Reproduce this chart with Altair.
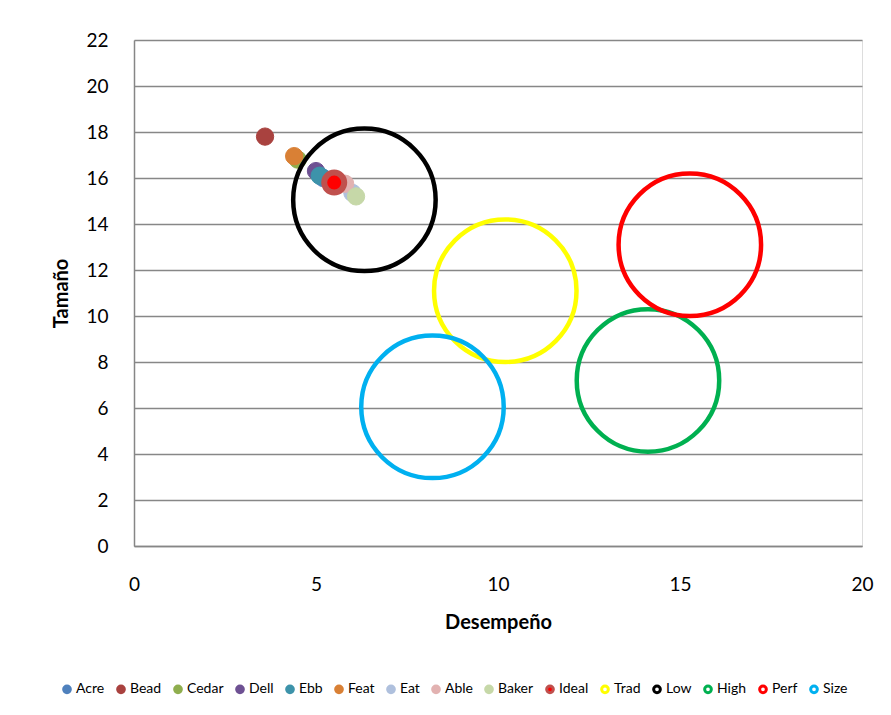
import altair as alt
import pandas as pd

series = ["Acre", "Bead", "Cedar", "Dell", "Ebb", "Feat", "Eat", "Able", "Baker",
          "Ideal", "Trad", "Low", "High", "Perf", "Size"]
fills = ["#4F81BD", "#A9423F", "#8FAE4E", "#6E5193", "#3D93AA", "#D98035", "#AFC0DD",
         "#E2B2B1", "#C6D8A8", "#FF0000", "transparent", "transparent", "transparent",
         "transparent", "transparent"]
strokes = ["#4F81BD", "#A9423F", "#8FAE4E", "#6E5193", "#3D93AA", "#D98035", "#AFC0DD",
           "#E2B2B1", "#C6D8A8", "#C0504D", "#FFFF00", "#000000", "#00B050",
           "#FF0000", "#00B0F0"]

# small points
dot_names = ["Acre", "Bead", "Cedar", "Dell", "Ebb", "Feat", "Eat", "Able", "Baker"]
dot_x = [5.2, 3.6, 4.5, 5.0, 5.1, 4.4, 6.0, 5.8, 6.1]
dot_y = [16.0, 17.8, 16.8, 16.3, 16.1, 16.95, 15.35, 15.75, 15.2]

ideal_x = [5.5]
ideal_y = [15.8]

ring_names = ["Trad", "Low", "High", "Perf", "Size"]
ring_x = [10.2, 6.33, 14.12, 15.27, 8.2]
ring_y = [11.1, 15.05, 7.2, 13.1, 6.05]

dots = pd.DataFrame({"series": dot_names, "x": dot_x, "y": dot_y})
ideal = pd.DataFrame({"series": ["Ideal"], "x": ideal_x, "y": ideal_y})
rings = pd.DataFrame({"series": ring_names, "x": ring_x, "y": ring_y})

font = "Lato"

xenc = alt.X("x:Q", title="Desempeño",
             scale=alt.Scale(domain=[0, 20], nice=False),
             axis=alt.Axis(values=[0, 5, 10, 15, 20], grid=False, ticks=False,
                           labelFlush=False,
                           domainColor="#868686", domainWidth=1.5,
                           labelFontSize=19, labelColor="#000000", labelPadding=29,
                           labelFont=font, titleFont=font, titleFontSize=20,
                           titleFontWeight="bold", titleColor="#000000", titlePadding=18))
yenc = alt.Y("y:Q", title="Tamaño",
             scale=alt.Scale(domain=[0, 22], nice=False),
             axis=alt.Axis(values=list(range(0, 23, 2)), grid=True, gridColor="#878787",
                           gridWidth=1.5, ticks=False, domainColor="#868686", domainWidth=1.5,
                           labelFlush=False,
                           labelFontSize=19, labelColor="#000000", labelPadding=26,
                           labelFont=font, titleFont=font, titleFontSize=20,
                           titleFontWeight="bold", titleColor="#000000", titlePadding=14))

legend = alt.Legend(title=None, orient="none", legendX=-74, legendY=642,
                    direction="horizontal", columns=15, symbolType="circle",
                    symbolSize=45, symbolStrokeWidth=3, labelFont=font,
                    labelFontSize=14, labelColor="#000000", columnPadding=6,
                    labelOffset=2)

fill_enc = alt.Fill("series:N", scale=alt.Scale(domain=series, range=fills), legend=legend)
stroke_enc = alt.Stroke("series:N", scale=alt.Scale(domain=series, range=strokes), legend=legend)

dot_layer = alt.Chart(dots).mark_point(shape="circle", filled=True, size=300,
                                       strokeWidth=1, opacity=1).encode(
    x=xenc, y=yenc, fill=fill_enc, stroke=stroke_enc)

ideal_layer = alt.Chart(ideal).mark_point(shape="circle", filled=True, size=400,
                                          strokeWidth=6, opacity=1).encode(
    x=xenc, y=yenc, fill=fill_enc, stroke=stroke_enc)

ring_layer = alt.Chart(rings).mark_point(shape="circle", filled=False, size=20300,
                                         strokeWidth=4.5, opacity=1).encode(
    x=xenc, y=yenc, fill=fill_enc, stroke=stroke_enc)

chart = alt.layer(dot_layer, ideal_layer, ring_layer).properties(
    width=728, height=506,
    autosize=alt.AutoSizeParams(type="none"),
    padding={"left": 126, "top": 32, "right": 20, "bottom": 160},
).configure_view(stroke=None).configure(background="white")

chart.save("out.html", embed_options={"renderer": "svg", "actions": False})
